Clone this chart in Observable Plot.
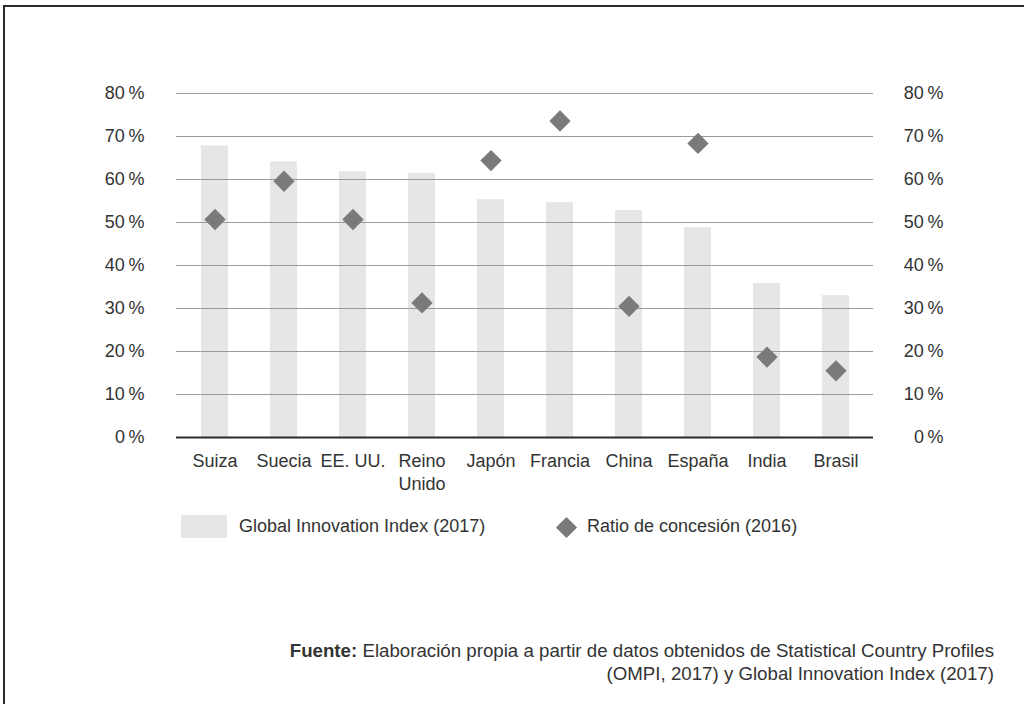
<!DOCTYPE html>
<html>
<head>
<meta charset="utf-8">
<script src="https://cdn.jsdelivr.net/npm/d3@7"></script>
<script src="https://cdn.jsdelivr.net/npm/@observablehq/plot@0.6"></script>
<style>
  html, body { margin: 0; padding: 0; background: #fff; }
  #page { position: relative; width: 1024px; height: 704px; overflow: hidden; font-family: 'Liberation Sans', Arial, sans-serif; color: #333; }
  #frame { position: absolute; left: 3px; top: 5px; width: 1100px; height: 800px; border-top: 2px solid #2a2a2a; border-left: 2px solid #2a2a2a; }
  #chart { position: absolute; left: 0; top: 0; }
  .legend-item { position: absolute; font-size: 18px; line-height: 22px; white-space: nowrap; }
  #sw1 { position: absolute; left: 181px; top: 515px; width: 46px; height: 23px; background: #e5e6e8; }
  #lg1 { left: 239px; top: 515px; }
  #sw2 { position: absolute; left: 559px; top: 520px; width: 15px; height: 15px; background: #7a7a7c; transform: rotate(45deg); }
  #lg2 { left: 587px; top: 515px; }
  #caption { position: absolute; right: 30px; top: 639px; font-size: 18.7px; line-height: 23px; text-align: right; white-space: nowrap; }
</style>
</head>
<body>
<div id="page">
  <div id="frame"></div>
  <div id="chart"></div>
  <div id="sw1"></div>
  <div class="legend-item" id="lg1"></div>
  <div id="sw2"></div>
  <div class="legend-item" id="lg2"></div>
  <div id="caption"></div>
</div>
<script>
const countries = ["Suiza", "Suecia", "EE. UU.", "Reino Unido", "Japón", "Francia", "China", "España", "India", "Brasil"];
const xLabels = ["Suiza", "Suecia", "EE. UU.", "Reino\nUnido", "Japón", "Francia", "China", "España", "India", "Brasil"];
const giiValues = [67.8, 64.1, 61.8, 61.4, 55.3, 54.6, 52.8, 48.8, 35.8, 33.0];
const ratioValues = [50.7, 59.6, 50.7, 31.3, 64.4, 73.6, 30.5, 68.4, 18.7, 15.5];
const yTicks = [0, 10, 20, 30, 40, 50, 60, 70, 80];
const seriesNames = ["Global Innovation Index (2017)", "Ratio de concesión (2016)"];
const captionBold = "Fuente:";
const captionLines = ["Elaboración propia a partir de datos obtenidos de Statistical Country Profiles", "(OMPI, 2017) y Global Innovation Index (2017)"];

const data = countries.map((c, i) => ({country: c, gii: giiValues[i], ratio: ratioValues[i]}));
const fmt = d => d + "\u2009%";

const chart = Plot.plot({
  width: 1024,
  height: 500,
  marginLeft: 176,
  marginRight: 151,
  marginTop: 93,
  marginBottom: 63,
  style: {fontFamily: "'Liberation Sans', Arial, sans-serif", fontSize: "18px", color: "#333", background: "transparent", overflow: "visible"},
  x: {type: "band", domain: countries, paddingInner: 0.61, paddingOuter: 0.305, align: 0.5},
  y: {domain: [0, 80]},
  marks: [
    Plot.barY(data, {x: "country", y: "gii", fill: "#e5e6e8"}),
    Plot.gridY(yTicks.filter(d => d > 0), {stroke: "#9a9a9a", strokeOpacity: 1, strokeWidth: 1}),
    Plot.ruleY([0], {stroke: "#2a2a2a", strokeWidth: 2}),
    Plot.dot(data, {x: "country", y: "ratio", symbol: "diamond2", r: 9.6, fill: "#7a7a7c", stroke: "none"}),
    Plot.axisY(yTicks, {anchor: "left", tickSize: 0, tickPadding: 32, tickFormat: fmt, label: null, fill: "#333"}),
    Plot.axisY(yTicks, {anchor: "right", tickSize: 0, tickPadding: 70, textAnchor: "end", tickFormat: fmt, label: null, fill: "#333"}),
    Plot.axisX({tickSize: 0, tickPadding: 13, tickFormat: d => xLabels[countries.indexOf(d)], lineHeight: 1.28, label: null, fill: "#333"})
  ]
});
document.getElementById("chart").appendChild(chart);
document.getElementById("lg1").textContent = seriesNames[0];
document.getElementById("lg2").textContent = seriesNames[1];
const cap = document.getElementById("caption");
const b = document.createElement("b");
b.textContent = captionBold;
cap.appendChild(b);
cap.appendChild(document.createTextNode(" " + captionLines[0]));
cap.appendChild(document.createElement("br"));
cap.appendChild(document.createTextNode(captionLines[1]));
</script>
</body>
</html>
